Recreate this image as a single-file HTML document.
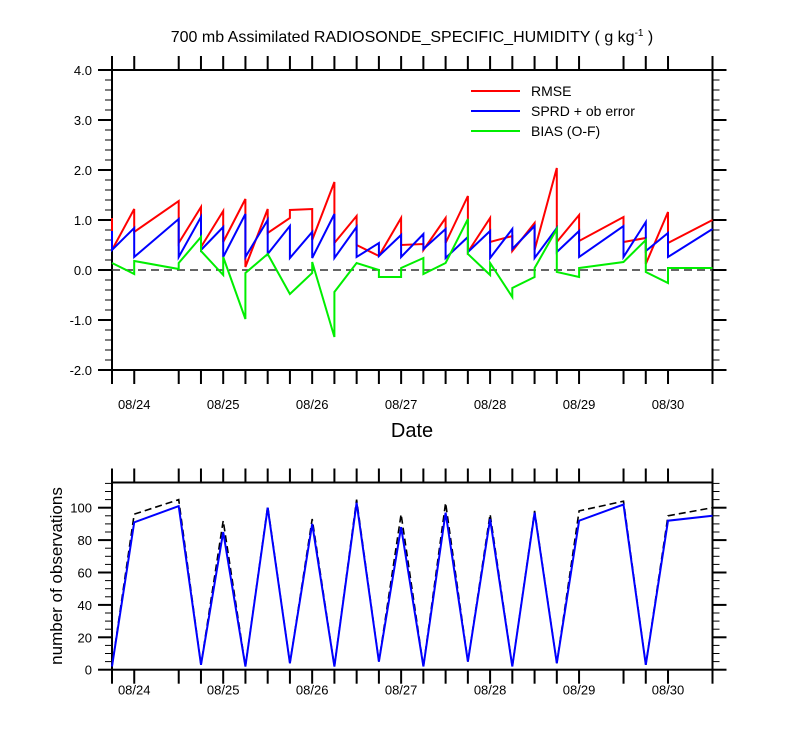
<!DOCTYPE html>
<html><head><meta charset="utf-8"><style>
html,body{margin:0;padding:0;background:#fff;}
svg{display:block;font-family:"Liberation Sans",sans-serif;}
</style></head><body>
<svg id="chart" width="800" height="750" viewBox="0 0 800 750">
<text x="412" y="42" text-anchor="middle" font-size="16">700 mb Assimilated RADIOSONDE_SPECIFIC_HUMIDITY ( g kg<tspan dy="-6" font-size="10">-1</tspan><tspan dy="6"> )</tspan></text>
<g id="topPanel"></g>
<g id="botPanel"></g>
<text x="412" y="437" text-anchor="middle" font-size="20">Date</text>
<text transform="translate(62,576) rotate(-90)" text-anchor="middle" font-size="17">number of observations</text>
<g>
<line x1="471" y1="91" x2="520" y2="91" stroke="#ff0000" stroke-width="2"/>
<text x="531" y="96" font-size="14">RMSE</text>
<line x1="471" y1="111" x2="520" y2="111" stroke="#0000ff" stroke-width="2"/>
<text x="531" y="116" font-size="14">SPRD + ob error</text>
<line x1="471" y1="131" x2="520" y2="131" stroke="#00ee00" stroke-width="2"/>
<text x="531" y="136" font-size="14">BIAS (O-F)</text>
</g>
</svg>
<script>
// time index: 0 = 08/23 18Z, step 6h
const tickIdx = [0,1,3,4,5,6,7,8,9,10,11,12,13,14,15,16,17,18,19,20,21,23,24,25,27];
const dateLabels = ["08/24","08/25","08/26","08/27","08/28","08/29","08/30"];
const dateLabelIdx = [1,5,9,13,17,21,25];
const topYTicks = [-2,-1,0,1,2,3,4];
const topYLabels = ["-2.0","-1.0","0.0","1.0","2.0","3.0","4.0"];
const rmseX = [0,0,1,1,3,3,4,4,5,5,6,6,7,7,8,8,9,9,10,10,11,11,12,13,13,14,14,15,15,16,16,17,17,18,18,19,19,20,20,21,21,23,23,24,24,25,25,27];
const rmseY = [1.04,0.4,1.22,0.76,1.38,0.54,1.26,0.46,1.18,0.56,1.42,0.06,1.22,0.74,1.04,1.2,1.22,0.6,1.76,0.54,1.08,0.5,0.28,1.04,0.5,0.52,0.4,1.04,0.54,1.48,0.36,1.04,0.56,0.68,0.38,0.94,0.4,2.04,0.56,1.1,0.58,1.06,0.56,0.64,0.12,1.16,0.54,1.0];
const sprdX = [0,0,1,1,3,3,4,4,5,5,6,6,7,7,8,8,9,9,10,10,11,11,12,12,13,13,14,14,15,15,16,16,17,17,18,18,19,19,20,20,21,21,23,23,24,24,25,25,27];
const sprdY = [0.78,0.4,0.84,0.26,1.02,0.26,1.06,0.4,0.86,0.26,1.12,0.26,1.0,0.32,0.88,0.24,0.76,0.24,1.12,0.24,0.86,0.26,0.54,0.28,0.7,0.26,0.72,0.42,0.82,0.24,0.66,0.36,0.78,0.24,0.82,0.42,0.88,0.24,0.84,0.36,0.78,0.26,0.88,0.26,0.96,0.38,0.74,0.26,0.82];
const biasX = [0,1,1,3,3,4,4,5,5,6,6,7,8,9,9,10,10,11,12,12,13,13,14,14,15,16,16,17,17,18,18,19,19,20,20,21,21,23,24,24,25,25,27];
const biasY = [0.14,-0.08,0.18,0.02,0.14,0.66,0.38,-0.1,0.26,-0.98,-0.06,0.32,-0.48,-0.06,0.16,-1.34,-0.44,0.14,0.0,-0.14,-0.14,0.04,0.24,-0.08,0.14,1.02,0.32,-0.1,0.14,-0.54,-0.36,-0.14,0.04,0.82,-0.04,-0.14,0.04,0.16,0.6,-0.04,-0.26,0.04,0.04];
const obsX = [0,1,3,4,5,6,7,8,9,10,11,12,13,14,15,16,17,18,19,20,21,23,24,25,27];
const obsUsed = [2,91,101,3,85,2,100,4,90,2,103,5,88,2,97,5,93,2,97,4,92,102,3,92,95];
const obsTotal = [2,96,105,3,92,2,101,4,93,2,105,5,96,2,103,5,96,2,98,4,98,104,3,95,100];
const botYTicks = [0,20,40,60,80,100];

const NS="http://www.w3.org/2000/svg";
const L=112,R=712.5;
const X=i=>L+(R-L)*i/27;
const topY=v=>270-50*v;
const botY=v=>669.7-1.62*v;
function mk(parent,tag,attrs){const e=document.createElementNS(NS,tag);for(const k in attrs)e.setAttribute(k,attrs[k]);parent.appendChild(e);return e;}

function axes(g,yT,yB,yTicks,yLab,yFn,minorStep,minorRange,prefix,lblOff){
  const fr=mk(g,'rect',{x:L,y:yT,width:R-L,height:yB-yT,fill:'none',stroke:'#000','stroke-width':2});
  
  
  tickIdx.forEach(i=>{
    const a=mk(g,'line',{x1:X(i),x2:X(i),y1:yT,y2:yT-14,stroke:'#000','stroke-width':2});
    
    
    const b=mk(g,'line',{x1:X(i),x2:X(i),y1:yB,y2:yB+14,stroke:'#000','stroke-width':2});
    
    
  });
  dateLabels.forEach((s,k)=>{
    const t=mk(g,'text',{x:X(dateLabelIdx[k]),y:yB+lblOff,'text-anchor':'middle','font-size':13});
    t.textContent=s;
    
    
  });
  for(let v=minorRange[0];v<=minorRange[1]+1e-9;v+=minorStep){
    const y=yFn(v);
    mk(g,'line',{x1:L-7,x2:L,y1:y,y2:y,stroke:'#000','stroke-width':1});
    mk(g,'line',{x1:R,x2:R+7,y1:y,y2:y,stroke:'#000','stroke-width':1});
  }
  yTicks.forEach((v,k)=>{
    const y=yFn(v);
    mk(g,'line',{x1:L-14,x2:L,y1:y,y2:y,stroke:'#000','stroke-width':2});
    mk(g,'line',{x1:R,x2:R+14,y1:y,y2:y,stroke:'#000','stroke-width':2});
    const t=mk(g,'text',{x:L-20,y:y+5,'text-anchor':'end','font-size':13});
    t.textContent=yLab[k];
    
    
  });
}
function line(g,xs,ys,yFn,color,w,dash,name){
  const pts=xs.map((x,k)=>X(x).toFixed(1)+','+yFn(ys[k]).toFixed(1)).join(' ');
  const p=mk(g,'polyline',{points:pts,fill:'none',stroke:color,'stroke-width':w,'stroke-linejoin':'miter'});
  if(dash)p.setAttribute('stroke-dasharray',dash);
  
  
}
const topG=document.getElementById('topPanel');
axes(topG,70,370,topYTicks,topYLabels,topY,0.2,[-2,4],'top',39);
const zl=mk(topG,'line',{x1:L,x2:R,y1:topY(0),y2:topY(0),stroke:'#333','stroke-width':1.5,'stroke-dasharray':'8,5'});


line(topG,rmseX,rmseY,topY,'#ff0000',2,null,'rmse-line');
line(topG,sprdX,sprdY,topY,'#0000ff',2,null,'sprd-line');
line(topG,biasX,biasY,topY,'#00ee00',2,null,'bias-line');

const botG=document.getElementById('botPanel');
axes(botG,482.5,669.7,botYTicks,botYTicks.map(String),botY,5,[0,115],'bottom',25);
line(botG,obsX,obsTotal,botY,'#000',1.6,'7,4','obs-total-line');
line(botG,obsX,obsUsed,botY,'#0000ff',2,null,'obs-used-line');
</script>
</body></html>
